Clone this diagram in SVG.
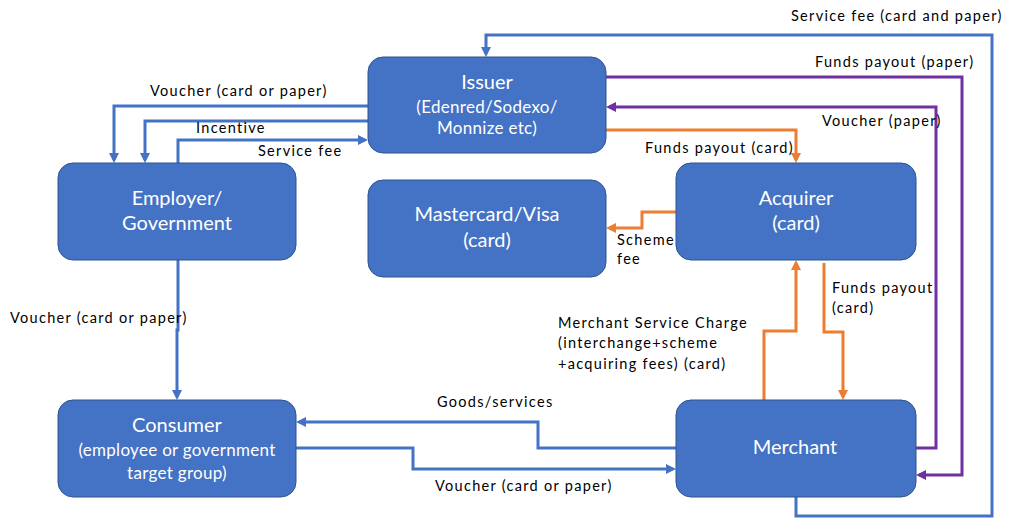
<svg xmlns="http://www.w3.org/2000/svg" width="1009" height="520" viewBox="0 0 1009 520">
  <style>
    .node rect { fill: #4472C4; stroke: #2F528F; stroke-width: 1; }
    .node text { fill: #FFFFFF; font-family: Lato, "Open Sans", sans-serif; text-anchor: middle; }
    .t1 { font-size: 20px; }
    .t2 { font-size: 17px; letter-spacing: 0.3px; }
    .lbl { fill: #000000; font-family: Lato, "Open Sans", sans-serif; font-size: 14.5px; letter-spacing: 1.3px; }
    .c { fill: none; stroke-width: 3; stroke-linejoin: miter; }
    .blue { stroke: #4472C4; }
    .purple { stroke: #7030A0; }
    .orange { stroke: #ED7D31; }
  </style>
  <defs>
    <marker id="ah-blue" markerUnits="userSpaceOnUse" markerWidth="10" markerHeight="10" refX="7" refY="5" orient="auto">
      <path d="M0,0 L10,5 L0,10 z" fill="#4472C4"/>
    </marker>
    <marker id="ah-purple" markerUnits="userSpaceOnUse" markerWidth="10" markerHeight="10" refX="7" refY="5" orient="auto">
      <path d="M0,0 L10,5 L0,10 z" fill="#7030A0"/>
    </marker>
    <marker id="ah-orange" markerUnits="userSpaceOnUse" markerWidth="10" markerHeight="10" refX="7" refY="5" orient="auto">
      <path d="M0,0 L10,5 L0,10 z" fill="#ED7D31"/>
    </marker>
  </defs>

  <rect width="1009" height="520" fill="#FFFFFF"/>

  <!-- connectors -->
  <g id="connectors">
    <!-- Issuer -> Employer: voucher -->
    <path class="c blue" d="M368,106 H114 V160" marker-end="url(#ah-blue)"/>
    <!-- Issuer -> Employer: incentive -->
    <path class="c blue" d="M368,121 H145 V160" marker-end="url(#ah-blue)"/>
    <!-- Employer -> Issuer: service fee -->
    <path class="c blue" d="M178,163 V140 H365" marker-end="url(#ah-blue)"/>
    <!-- Employer -> Consumer -->
    <path class="c blue" d="M178,260 V330 H177 V397" marker-end="url(#ah-blue)"/>
    <!-- Merchant -> Consumer: goods/services -->
    <path class="c blue" d="M676,448 H538 V422 H299" marker-end="url(#ah-blue)"/>
    <!-- Consumer -> Merchant: voucher -->
    <path class="c blue" d="M296,448 H413 V469 H673" marker-end="url(#ah-blue)"/>
    <!-- Merchant -> Issuer: service fee -->
    <path class="c blue" d="M796,497 V516 H992 V35 H486 V54" marker-end="url(#ah-blue)"/>
    <!-- Issuer -> Merchant: funds payout (paper) -->
    <path class="c purple" d="M606,77 H962 V475 H919" marker-end="url(#ah-purple)"/>
    <!-- Merchant -> Issuer: voucher (paper) -->
    <path class="c purple" d="M916,448 H936 V107 H609" marker-end="url(#ah-purple)"/>
    <!-- Issuer -> Acquirer: funds payout (card) -->
    <path class="c orange" d="M606,130 H796 V160" marker-end="url(#ah-orange)"/>
    <!-- Acquirer -> Mastercard/Visa: scheme fee -->
    <path class="c orange" d="M676,212 H642 V228 H609" marker-end="url(#ah-orange)"/>
    <!-- Merchant -> Acquirer: merchant service charge -->
    <path class="c orange" d="M764,400 V331 H796 V263" marker-end="url(#ah-orange)"/>
    <!-- Acquirer -> Merchant: funds payout (card) -->
    <path class="c orange" d="M824,263 V332 H843 V397" marker-end="url(#ah-orange)"/>
  </g>

  <!-- connector labels -->
  <g id="labels">
    <text class="lbl" x="150" y="96">Voucher (card or paper)</text>
    <text class="lbl" x="196" y="133">Incentive</text>
    <text class="lbl" x="258" y="156">Service fee</text>
    <text class="lbl" x="10" y="323">Voucher (card or paper)</text>
    <text class="lbl" x="437" y="407">Goods/services</text>
    <text class="lbl" x="435" y="491">Voucher (card or paper)</text>
    <text class="lbl" x="791" y="21">Service fee (card and paper)</text>
    <text class="lbl" x="815" y="67">Funds payout (paper)</text>
    <text class="lbl" x="822" y="126">Voucher (paper)</text>
    <text class="lbl" x="645" y="153">Funds payout (card)</text>
    <text class="lbl" x="617" y="245">Scheme</text>
    <text class="lbl" x="617" y="264">fee</text>
    <text class="lbl" x="558" y="328">Merchant Service Charge</text>
    <text class="lbl" x="558" y="348">(interchange+scheme</text>
    <text class="lbl" x="558" y="369">+acquiring fees) (card)</text>
    <text class="lbl" x="832" y="293">Funds payout</text>
    <text class="lbl" x="832" y="313">(card)</text>
  </g>

  <!-- nodes -->
  <g id="issuer" class="node">
    <rect x="368" y="57" width="238" height="96" rx="15"/>
    <text class="t1" x="487" y="89">Issuer</text>
    <text class="t2" x="487" y="113">(Edenred/Sodexo/</text>
    <text class="t2" x="487" y="134">Monnize etc)</text>
  </g>
  <g id="employer" class="node">
    <rect x="58" y="163" width="238" height="97" rx="15"/>
    <text class="t1" x="177" y="205">Employer/</text>
    <text class="t1" x="177" y="230">Government</text>
  </g>
  <g id="scheme" class="node">
    <rect x="368" y="180" width="238" height="97" rx="15"/>
    <text class="t1" x="487" y="221">Mastercard/Visa</text>
    <text class="t1" x="487" y="247">(card)</text>
  </g>
  <g id="acquirer" class="node">
    <rect x="676" y="163" width="240" height="97" rx="15"/>
    <text class="t1" x="796" y="205">Acquirer</text>
    <text class="t1" x="796" y="230">(card)</text>
  </g>
  <g id="consumer" class="node">
    <rect x="58" y="400" width="238" height="97" rx="15"/>
    <text class="t1" x="177" y="432">Consumer</text>
    <text class="t2" x="177" y="456">(employee or government</text>
    <text class="t2" x="177" y="479">target group)</text>
  </g>
  <g id="merchant" class="node">
    <rect x="676" y="400" width="240" height="97" rx="15"/>
    <text class="t1" x="795" y="454">Merchant</text>
  </g>
</svg>
